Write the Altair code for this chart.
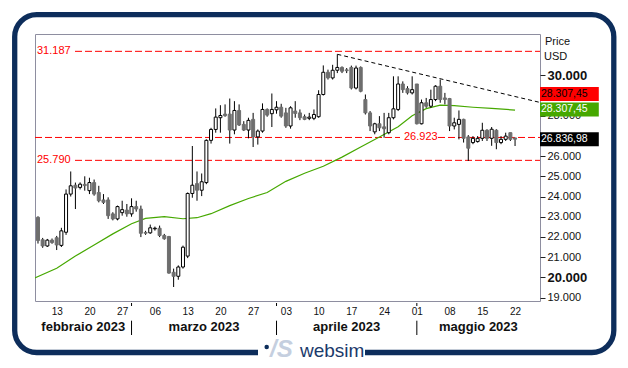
import altair as alt
import pandas as pd
import numpy as np

# ---------------- data ----------------
first_day = "2023-02-09"
last_day = "2023-05-22"

opens = [22970, 21860, 21550, 21840, 21960, 21580, 22230, 24120, 24560, 24450,
         24600, 24290, 24690, 24200, 23830, 23830, 23140, 22890, 23200, 23330,
         23140, 23500, 23380, 22220, 22200, 22400, 22430, 22070, 22020, 20250,
         20050, 20510, 21050, 24150, 24640, 24310, 24690, 26780, 27320, 27900,
         28080, 28080, 27290, 28260, 27570, 27290, 27820, 26950, 27240, 28310,
         28100, 28290, 28420, 28140, 27490, 28230, 28140, 27950, 27870, 27870,
         27950, 29050, 30150, 29870, 30250, 30390, 30270, 30390, 29370, 30390,
         28800, 28140, 27200, 27600, 27450, 27160, 27900, 28310, 29570, 29340,
         29130, 29570, 27600, 28640, 28470, 28800, 29460, 28880, 28850, 27490,
         27570, 27820, 26950, 26670, 26720, 26880, 27280, 26880, 27280, 26670,
         26830, 27160, 26900]
highs = [23020, 21950, 21900, 21920, 22050, 22450, 24350, 25240, 24690, 24700,
         25000, 24930, 24840, 24530, 24120, 23960, 23220, 23550, 23790, 23630,
         23910, 23790, 23550, 22300, 22610, 22510, 22560, 22150, 22050, 20430,
         20590, 21570, 24200, 26500, 25240, 25140, 26830, 27400, 28360, 28520,
         28560, 28850, 28720, 28560, 27730, 27900, 28140, 27320, 28610, 28360,
         29100, 28720, 28590, 28390, 28470, 28720, 28310, 28060, 28140, 28310,
         29260, 30490, 30280, 30520, 31040, 30440, 30360, 30480, 30480, 30440,
         29050, 28230, 27650, 27980, 28140, 28140, 29950, 29950, 29700, 29460,
         29950, 29570, 28800, 28880, 29290, 29510, 29790, 29130, 28880, 27900,
         28260, 27850, 27040, 26990, 26990, 27650, 27330, 27440, 27330, 26990,
         27160, 27160, 26900]
lows = [21670, 21460, 21500, 21660, 21350, 21500, 22100, 24000, 23380, 24350,
        24290, 24120, 24040, 23710, 23630, 22890, 22820, 22820, 23050, 23000,
        23000, 23250, 21990, 22100, 22150, 22310, 21990, 21860, 20180, 19520,
        19880, 20430, 20950, 23940, 23790, 24020, 24610, 26620, 27160, 27160,
        27950, 26620, 27080, 27490, 27240, 26880, 26450, 26570, 27160, 27950,
        27440, 28100, 27900, 27400, 27360, 27900, 27780, 27780, 27780, 27780,
        27900, 29000, 29790, 29790, 30110, 30110, 30110, 29300, 29300, 29160,
        28060, 27240, 27080, 27240, 26910, 27080, 27820, 28230, 29130, 29050,
        29050, 27570, 27570, 28390, 28390, 28720, 28640, 28560, 27240, 27320,
        26830, 26670, 25760, 26590, 26670, 26750, 26750, 26510, 26340, 26590,
        26750, 26750, 26500]
closes = [21820, 21550, 21840, 21720, 21600, 22300, 24120, 24530, 24420, 24610,
          24540, 24690, 24120, 23790, 23710, 23050, 22890, 23500, 23350, 23140,
          23500, 23380, 22180, 22180, 22450, 22430, 22070, 21910, 20210, 20050,
          20510, 21490, 24150, 24560, 24310, 24730, 26780, 27320, 27930, 28010,
          28000, 27290, 28260, 27540, 27290, 27770, 26950, 27240, 28310, 28030,
          28310, 28420, 27980, 27490, 28390, 28110, 27900, 27820, 27930, 28060,
          29050, 30150, 29870, 30250, 30390, 30200, 30230, 29370, 30360, 29210,
          28140, 27490, 27600, 27400, 27350, 27900, 28340, 29570, 29290, 29130,
          29290, 27600, 28640, 28470, 28800, 29460, 28800, 28800, 27490, 27650,
          27820, 26880, 26390, 26880, 26880, 27280, 26880, 27330, 26670, 26830,
          26990, 26830, 26837]

ma_dates = ["2023-02-08", "2023-02-13", "2023-02-17", "2023-02-21", "2023-02-25",
            "2023-03-01", "2023-03-04", "2023-03-08", "2023-03-12", "2023-03-15",
            "2023-03-18", "2023-03-22", "2023-03-26", "2023-03-30", "2023-04-03",
            "2023-04-07", "2023-04-11", "2023-04-15", "2023-04-19", "2023-04-23",
            "2023-04-27", "2023-04-30", "2023-05-03", "2023-05-06", "2023-05-09",
            "2023-05-13", "2023-05-17", "2023-05-22"]
ma_values = [19930, 20450, 21050, 21600, 22150, 22650, 22920, 23000, 22900, 22950,
             23150, 23550, 23900, 24200, 24750, 25150, 25500, 25950, 26450, 26950,
             27450, 28000, 28350, 28520, 28500, 28420, 28360, 28280]

levels = [31187, 26923, 25790]
level_labels = ["31.187", "26.923", "25.790"]

trend_dates = ["2023-04-14", "2023-05-28"]
trend_values = [31040, 28620]

box_labels = ["28.307,45", "28.307,45", "26.836,98"]
box_values = [28307.45, 28307.45, 26836.98]

month_names = ["febbraio 2023", "marzo 2023", "aprile 2023", "maggio 2023"]
month_starts = ["2023-02-01", "2023-03-01", "2023-04-01", "2023-05-01", "2023-06-01"]

price_ticks = [19000, 20000, 21000, 22000, 23000, 24000, 25000, 26000, 28000, 30000]
day_ticks = ["2023-02-13", "2023-02-20", "2023-02-27", "2023-03-06", "2023-03-13",
             "2023-03-20", "2023-03-27", "2023-04-03", "2023-04-10", "2023-04-17",
             "2023-04-24", "2023-05-01", "2023-05-08", "2023-05-15", "2023-05-22"]

# ---------------- styles ----------------
FONT = "Liberation Sans"
NAVY = "#0d2d5b"
RED = "#ff0000"
GREEN = "#46a800"
GRAY = "#6e6e6e"
W, H = 505, 267

dom_start = pd.Timestamp("2023-02-08T08:38:00")
dom_end = pd.Timestamp("2023-05-27T08:00:00")


def dt(ts):
    ts = pd.Timestamp(ts)
    return alt.DateTime(year=ts.year, month=ts.month, date=ts.day,
                        hours=ts.hour, minutes=ts.minute, utc=True)


def iso(ts):
    return pd.Timestamp(ts).strftime("%Y-%m-%dT%H:%M:%SZ")


x_scale = alt.Scale(type="utc", domain=[dt(dom_start), dt(dom_end)], nice=False, padding=0)
y_scale = alt.Scale(domain=[18827, 32045], zero=False, nice=False, padding=0)

x_axis = alt.Axis(values=[dt(d) for d in day_ticks],
                  labelExpr="utcFormat(datum.value, '%d')",
                  title=None, grid=False, domain=False, ticks=False,
                  labelPadding=5, labelFont=FONT, labelFontSize=10,
                  labelColor="#111111", labelFlush=False, labelOverlap=False)
y_axis = alt.Axis(orient="right", values=price_ticks,
                  labelExpr="replace(format(datum.value, ',.0f'), ',', '.')",
                  title=None, grid=False, domain=False, ticks=True, tickSize=5,
                  tickColor="#222222", labelPadding=2, labelFont=FONT,
                  labelColor="#111111", labelOverlap=False, labelFlush=False,
                  labelFontSize={"condition": {"test": "datum.value == 30000 || datum.value == 20000", "value": 13}, "value": 11},
                  labelFontWeight={"condition": {"test": "datum.value == 30000 || datum.value == 20000", "value": "bold"}, "value": "normal"})


def X(field):
    return alt.X(field, type="temporal", scale=x_scale, axis=x_axis)


def Y(field):
    return alt.Y(field, type="quantitative", scale=y_scale, axis=y_axis)


one = pd.DataFrame({"k": [0]})

# ---------------- candles ----------------
dates = pd.date_range(first_day, last_day, freq="D")
df = pd.DataFrame({"date": [iso(d) for d in dates], "open": opens, "high": highs,
                   "low": lows, "close": closes})
up = df["close"] >= df["open"]
df["fill"] = np.where(up, "#ffffff", GRAY)
df["stroke"] = np.where(up, "#000000", GRAY)

wicks = alt.Chart(df).mark_rule(color="#000000", strokeWidth=1).encode(
    x=X("date"), y=Y("low"), y2="high")
bodies = alt.Chart(df).mark_bar(size=3, strokeWidth=1).encode(
    x=X("date"), y=Y("open"), y2="close",
    fill=alt.Fill("fill:N", scale=None), stroke=alt.Stroke("stroke:N", scale=None))

# ---------------- moving average & trend ----------------
ma_df = pd.DataFrame({"date": [iso(d) for d in ma_dates], "ma": ma_values})
ma_line = alt.Chart(ma_df).mark_line(color=GREEN, strokeWidth=1.2, clip=True).encode(
    x=X("date"), y=Y("ma"))

tr_df = pd.DataFrame({"date": [iso(d) for d in trend_dates], "v": trend_values})
trend = alt.Chart(tr_df).mark_line(color="#000000", strokeWidth=1, strokeDash=[4, 3],
                                   clip=True).encode(x=X("date"), y=Y("v"))

# ---------------- red levels ----------------
lv = pd.DataFrame({"v": levels, "t": level_labels})


def hline(i, x0, x1):
    return alt.Chart(lv.iloc[[i]]).mark_rule(color=RED, strokeWidth=1, strokeDash=[7, 3]).encode(
        y=Y("v"), x=alt.value(x0), x2=alt.value(x1))


def hlabel(i, x0):
    return alt.Chart(lv.iloc[[i]]).mark_text(align="left", baseline="middle", font=FONT,
                                             fontSize=11, color=RED).encode(
        y=Y("v"), x=alt.value(x0), text="t:N")


level_layers = [hline(0, 40, W), hlabel(0, 2),
                hline(1, 0, 365), hline(1, 403, W), hlabel(1, 369),
                hline(2, 40, W), hlabel(2, 2)]

# ---------------- value boxes on the right ----------------
BOX = "M-2.1,-0.5H2.1V0.5H-2.1Z"
bx = pd.DataFrame({"v": box_values, "t": box_labels})


def box(i, fill, tcolor, yoff):
    d = bx.iloc[[i]]
    b = alt.Chart(d).mark_point(shape=BOX, size=784, filled=True, fill=fill, color=fill,
                                opacity=1, strokeWidth=0, yOffset=yoff).encode(
        x=alt.value(534.4), y=Y("v"))
    t = alt.Chart(d).mark_text(align="left", baseline="middle", font=FONT, fontSize=10.5,
                               color=tcolor, yOffset=yoff).encode(
        x=alt.value(506), y=Y("v"), text="t:N")
    return [b, t]


box_layers = box(0, RED, "#000000", -15.5) + box(1, GREEN, "#ffffff", 0) + box(2, "#000000", "#ffffff", 0)

head = [
    alt.Chart(one).mark_text(align="left", baseline="middle", font=FONT, fontSize=11,
                             color="#111111", text="Price").encode(x=alt.value(510), y=alt.value(7.7)),
    alt.Chart(one).mark_text(align="left", baseline="middle", font=FONT, fontSize=11,
                             color="#111111", text="USD").encode(x=alt.value(509), y=alt.value(23)),
]

# ---------------- month labels ----------------
ms = [pd.Timestamp(m) for m in month_starts]
mids = []
for i in range(len(month_names)):
    a = max(ms[i], dom_start)
    b = min(ms[i + 1], dom_end)
    mids.append(iso(a + (b - a) / 2))
mdf = pd.DataFrame({"mid": mids, "name": month_names})
sdf = pd.DataFrame({"d": [iso(m) for m in ms[1:4]]})

months = alt.Chart(mdf).mark_text(baseline="middle", align="center", font=FONT, fontSize=13,
                                  fontWeight="bold", color="#111111").encode(
    x=X("mid"), y=alt.value(H + 25.7), text="name:N")
seps_rule = alt.Chart(sdf).mark_rule(color="#000000", strokeWidth=1).encode(
    x=X("d"), y=alt.value(H + 19.7), y2=alt.value(H + 34))
seps_tick = alt.Chart(sdf).mark_rule(color="#000000", strokeWidth=1).encode(
    x=X("d"), y=alt.value(H + 2), y2=alt.value(H + 5))

# ---------------- frame & logo ----------------
frame = alt.Chart(one).mark_rect(fill="transparent", stroke=NAVY, strokeWidth=5.3,
                                 cornerRadius=22).encode(
    x=alt.value(-20.3), x2=alt.value(578.8), y=alt.value(-19.3), y2=alt.value(318.5))
gap = alt.Chart(one).mark_rect(fill="#ffffff", strokeWidth=0).encode(
    x=alt.value(223), x2=alt.value(330), y=alt.value(311), y2=alt.value(326))
logo_dot = alt.Chart(one).mark_point(shape="circle", filled=True, color=NAVY, size=20,
                                     opacity=1).encode(x=alt.value(231.7), y=alt.value(313))
logo_mark = alt.Chart(one).mark_text(align="left", baseline="alphabetic", font=FONT,
                                     fontSize=24, fontStyle="italic", fontWeight="bold",
                                     color="#c5cfdf", text="/S").encode(
    x=alt.value(235), y=alt.value(323))
logo_text = alt.Chart(one).mark_text(align="left", baseline="alphabetic", font=FONT,
                                     fontSize=19, color="#1b3a6b", text="websim").encode(
    x=alt.value(265), y=alt.value(323))

chart = alt.layer(
    frame, gap, logo_dot, logo_mark, logo_text,
    *level_layers, ma_line, trend, wicks, bodies,
    *box_layers, *head, months, seps_rule, seps_tick,
).properties(
    width=W, height=H,
    autosize=alt.AutoSizeParams(type="none"),
    padding={"left": 27, "top": 26, "right": 80, "bottom": 60},
).configure_view(stroke="#8e8ea0", strokeWidth=1)

chart.save("out.html", embed_options={"renderer": "svg", "actions": False})
